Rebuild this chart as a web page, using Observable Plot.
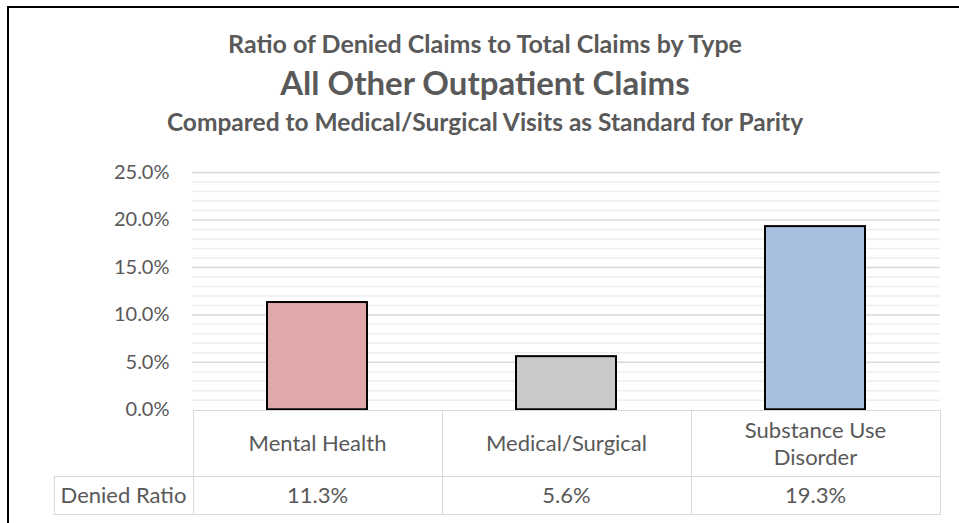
<!DOCTYPE html>
<html><head><meta charset="utf-8">
<script src="https://cdn.jsdelivr.net/npm/d3@7"></script>
<script src="https://cdn.jsdelivr.net/npm/@observablehq/plot@0.6"></script>
<style>
html,body{margin:0;padding:0;background:#fff;overflow:hidden;}
#wrap{position:relative;width:959px;height:523px;overflow:hidden;font-family:Lato,"Open Sans",sans-serif;color:#595959;background:#fff;}
#frame{position:absolute;left:7px;top:6px;width:1300px;height:900px;border-left:2.5px solid #000;border-top:2.5px solid #000;box-sizing:border-box;}
.t{position:absolute;left:0;width:970px;text-align:center;font-weight:bold;white-space:nowrap;line-height:1;}
#chart{position:absolute;left:0;top:0;}
#tbl{position:absolute;border-collapse:collapse;table-layout:fixed;font-size:22px;color:#595959;}
#tbl td{border:1.5px solid #d9d9d9;text-align:center;vertical-align:middle;padding:0;line-height:1.2;}
#tbl td.blank{border:none;}
</style></head>
<body>
<div id="wrap">
  <div id="frame"></div>
  <div class="t" id="t1" style="top:31px;font-size:25px;"></div>
  <div class="t" id="t2" style="top:66px;font-size:33px;"></div>
  <div class="t" id="t3" style="top:110px;font-size:24.5px;"></div>
  <div id="chart"></div>
  <table id="tbl"></table>
</div>
<script>
const titleLines = ["Ratio of Denied Claims to Total Claims by Type", "All Other Outpatient Claims", "Compared to Medical/Surgical Visits as Standard for Parity"];
const categories = ["Mental Health", "Medical/Surgical", "Substance Use Disorder"];
const categoryLabelLines = [["Mental Health"], ["Medical/Surgical"], ["Substance Use", "Disorder"]];
const deniedRatio = [11.3, 5.6, 19.3];
const barColors = ["#dfa9a9", "#c9c9c9", "#a9bfdf"];
const yTicks = [0, 5, 10, 15, 20, 25];
const rowLabel = "Denied Ratio";

document.getElementById("t1").textContent = titleLines[0];
document.getElementById("t2").textContent = titleLines[1];
document.getElementById("t3").textContent = titleLines[2];

const data = categories.map((c, i) => ({cat: c, v: deniedRatio[i]}));
const minorTicks = d3.range(1, 25).filter(d => d % 5 !== 0);

const chart = Plot.plot({
  width: 959, height: 523,
  marginLeft: 192, marginRight: 19, marginTop: 172, marginBottom: 113.7,
  style: {fontFamily: "Lato, 'Open Sans', sans-serif", fontSize: "20px", color: "#595959", background: "transparent", overflow: "visible"},
  x: {domain: categories, paddingInner: 0.6, paddingOuter: 0.3, axis: null},
  y: {domain: [0, 25]},
  color: {domain: categories, range: barColors},
  marks: [
    Plot.ruleY(minorTicks, {stroke: "#eeeeee", strokeWidth: 1.5}),
    Plot.ruleY(yTicks.filter(d => d > 0), {stroke: "#d9d9d9", strokeWidth: 1.5}),
    Plot.axisY(yTicks, {tickSize: 0, tickPadding: 23, tickFormat: d => d.toFixed(1) + "%", label: null, fontSize: 20}),
    Plot.barY(data, {x: "cat", y: "v", fill: "cat", stroke: "#000", strokeWidth: 2})
  ]
});
document.getElementById("chart").appendChild(chart);

// Data table under the chart, aligned with the x band scale
const xs = chart.scale("x");
const ys = chart.scale("y");
const step = xs.step;
const colLeft = xs.apply(categories[0]) - (step - xs.bandwidth) / 2;
const labelColW = 139;
const tbl = document.getElementById("tbl");
tbl.style.left = (colLeft - labelColW) + "px";
tbl.style.top = (ys.apply(0) + 1) + "px";
tbl.style.width = (labelColW + step * categories.length) + "px";
let html = `<colgroup><col style="width:${labelColW}px">` + categories.map(() => `<col style="width:${step}px">`).join("") + `</colgroup>`;
html += `<tr style="height:65.7px"><td class="blank"></td>` + categoryLabelLines.map(l => `<td>${l.join("<br>")}</td>`).join("") + `</tr>`;
html += `<tr style="height:38.3px"><td>${rowLabel}</td>` + deniedRatio.map(v => `<td>${v.toFixed(1)}%</td>`).join("") + `</tr>`;
tbl.innerHTML = html;
</script>
</body></html>
